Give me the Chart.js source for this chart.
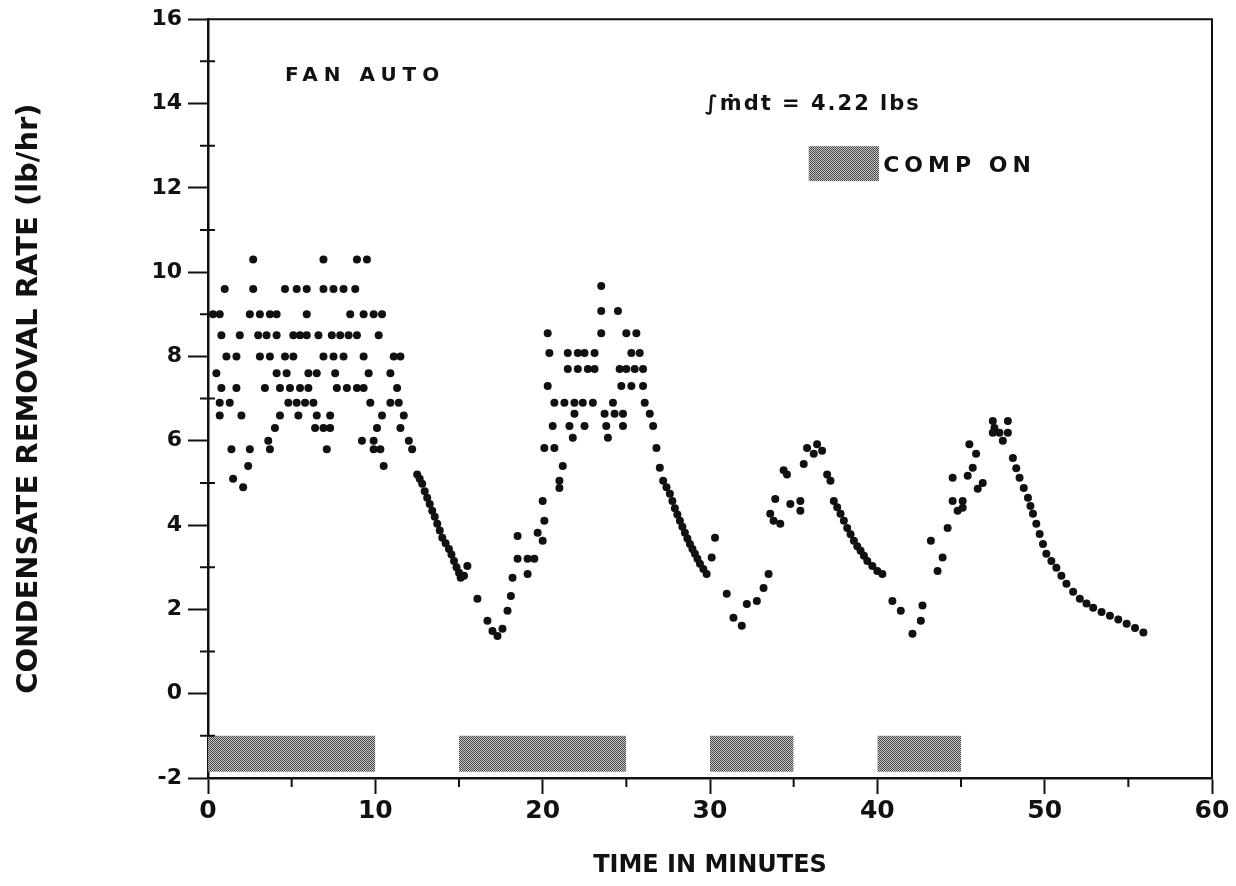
<!DOCTYPE html>
<html>
<head>
<meta charset="utf-8">
<script src="https://cdn.jsdelivr.net/npm/chart.js@4.4.1/dist/chart.umd.min.js"></script>
<style>
  body { margin: 0; background: #fff; }
  canvas { display: block; }
</style>
</head>
<body>
<canvas id="rateChart" width="1236" height="886"></canvas>
<script>
// cycle 1 plateau (0-12 min), grouped by the quantised rate levels
let cycle1Time = [
    2.7, 6.9, 8.9, 9.5,
    1.0, 2.7, 4.6, 5.3, 5.9, 6.9, 7.5, 8.1, 8.8,
    0.3, 0.7, 2.5, 3.1, 3.7, 4.1, 5.9, 8.5, 9.3, 9.9, 10.4,
    0.8, 1.9, 3.0, 3.5, 4.1, 5.1, 5.5, 5.9, 6.6, 7.4, 7.9, 8.4, 8.9, 10.2,
    1.1, 1.7, 3.1, 3.7, 4.6, 5.1, 6.9, 7.5, 8.1, 9.3, 11.1, 11.5,
    0.5, 4.1, 4.7, 6.0, 6.5, 7.6, 9.6, 10.9,
    0.8, 1.7, 3.4, 4.3, 4.9, 5.5, 6.0, 7.7, 8.3, 8.9, 9.3, 11.3,
    0.7, 1.3, 4.8, 5.3, 5.8, 6.3, 9.7, 10.9, 11.4,
    0.7, 2.0, 4.3, 5.4, 6.5, 7.3, 10.4, 11.7,
    4.0, 6.4, 6.9, 7.3, 10.1, 11.5,
    3.6, 9.2, 9.9, 12.0,
    1.4, 2.5, 3.7, 7.1, 9.9, 10.3, 12.2,
    2.4, 10.5, 1.5, 2.1
];
let cycle1Rate = [
    10.3, 10.3, 10.3, 10.3,
    9.6, 9.6, 9.6, 9.6, 9.6, 9.6, 9.6, 9.6, 9.6,
    9.0, 9.0, 9.0, 9.0, 9.0, 9.0, 9.0, 9.0, 9.0, 9.0, 9.0,
    8.5, 8.5, 8.5, 8.5, 8.5, 8.5, 8.5, 8.5, 8.5, 8.5, 8.5, 8.5, 8.5, 8.5,
    8.0, 8.0, 8.0, 8.0, 8.0, 8.0, 8.0, 8.0, 8.0, 8.0, 8.0, 8.0,
    7.6, 7.6, 7.6, 7.6, 7.6, 7.6, 7.6, 7.6,
    7.25, 7.25, 7.25, 7.25, 7.25, 7.25, 7.25, 7.25, 7.25, 7.25, 7.25, 7.25,
    6.9, 6.9, 6.9, 6.9, 6.9, 6.9, 6.9, 6.9, 6.9,
    6.6, 6.6, 6.6, 6.6, 6.6, 6.6, 6.6, 6.6,
    6.3, 6.3, 6.3, 6.3, 6.3, 6.3,
    6.0, 6.0, 6.0, 6.0,
    5.8, 5.8, 5.8, 5.8, 5.8, 5.8, 5.8,
    5.4, 5.4, 5.1, 4.9
];

// first decay, valley and rise
let fall1Time = [12.5, 12.65, 12.8, 12.95, 13.1, 13.25, 13.4, 13.55, 13.7, 13.85, 14.0, 14.2, 14.4, 14.55, 14.7, 14.85, 15.0, 15.1, 15.3, 15.5];
let fall1Rate = [5.2, 5.1, 4.98, 4.8, 4.65, 4.5, 4.34, 4.2, 4.03, 3.87, 3.7, 3.57, 3.43, 3.3, 3.15, 3.0, 2.87, 2.75, 2.8, 3.03];
let rise2Time = [16.1, 16.7, 17.0, 17.3, 17.6, 17.9, 18.1, 18.2, 18.5, 18.5, 19.1, 19.1, 19.5, 19.7, 20.0, 20.1, 20.0, 21.0, 21.0, 21.2, 20.1, 20.7];
let rise2Rate = [2.25, 1.73, 1.49, 1.37, 1.54, 1.97, 2.32, 2.75, 3.2, 3.74, 3.2, 2.84, 3.2, 3.82, 3.63, 4.1, 4.57, 4.88, 5.05, 5.4, 5.83, 5.83];

// cycle 2 plateau
let cycle2Time = [
    23.5,
    23.5, 24.5,
    20.3, 23.5, 25.0, 25.6,
    20.4, 21.5, 22.1, 22.5, 23.1, 25.3, 25.8,
    21.5, 22.1, 22.7, 23.1, 24.6, 25.0, 25.5, 26.0,
    20.3, 24.7, 25.3, 26.0,
    20.7, 21.3, 21.9, 22.4, 23.0, 24.2, 26.1,
    21.9, 23.7, 24.3, 24.8, 26.4,
    20.6, 21.6, 22.5, 23.8, 24.8, 26.6,
    21.8, 23.9
];
let cycle2Rate = [
    9.67,
    9.08, 9.08,
    8.55, 8.55, 8.55, 8.55,
    8.08, 8.08, 8.08, 8.08, 8.08, 8.08, 8.08,
    7.7, 7.7, 7.7, 7.7, 7.7, 7.7, 7.7, 7.7,
    7.3, 7.3, 7.3, 7.3,
    6.9, 6.9, 6.9, 6.9, 6.9, 6.9, 6.9,
    6.64, 6.64, 6.64, 6.64, 6.64,
    6.35, 6.35, 6.35, 6.35, 6.35, 6.35,
    6.07, 6.07
];

// second decay, valley and rise
let fall2Time = [26.8, 27.0, 27.2, 27.4, 27.6, 27.75, 27.9, 28.05, 28.2, 28.35, 28.5, 28.65, 28.8, 28.95, 29.1, 29.25, 29.4, 29.6, 29.8, 30.1, 30.3];
let fall2Rate = [5.83, 5.36, 5.05, 4.9, 4.74, 4.57, 4.4, 4.25, 4.1, 3.96, 3.82, 3.68, 3.55, 3.43, 3.32, 3.2, 3.08, 2.96, 2.84, 3.23, 3.7];
let rise3Time = [31.0, 31.4, 31.9, 32.2, 32.8, 33.2, 33.5, 33.6, 33.8, 33.9, 34.2, 34.4, 34.6, 34.8, 35.4, 35.4, 35.6, 35.8, 36.2, 36.4, 36.7];
let rise3Rate = [2.37, 1.8, 1.61, 2.13, 2.2, 2.51, 2.84, 4.27, 4.1, 4.62, 4.03, 5.3, 5.2, 4.5, 4.34, 4.57, 5.45, 5.83, 5.69, 5.92, 5.76];

// third decay, valley and rise
let fall3Time = [37.0, 37.2, 37.4, 37.6, 37.8, 38.0, 38.2, 38.4, 38.6, 38.8, 39.0, 39.2, 39.4, 39.7, 40.0, 40.3];
let fall3Rate = [5.2, 5.05, 4.57, 4.42, 4.27, 4.1, 3.93, 3.78, 3.63, 3.5, 3.39, 3.27, 3.15, 3.03, 2.91, 2.84];
let rise4Time = [40.9, 41.4, 42.1, 42.6, 42.7, 43.2, 43.6, 43.9, 44.2, 44.5, 44.5, 44.8, 45.1, 45.1, 45.4, 45.5, 45.7, 45.9, 46.0, 46.3, 47.0];
let rise4Rate = [2.2, 1.97, 1.42, 1.73, 2.09, 3.63, 2.91, 3.23, 3.93, 4.57, 5.12, 4.34, 4.57, 4.41, 5.17, 5.92, 5.36, 5.69, 4.86, 5.0, 6.3];

// last peak and final decay
let fall4Time = [46.9, 47.8, 46.9, 47.3, 47.8, 47.5, 48.1, 48.3, 48.5, 48.75, 49.0, 49.15, 49.3, 49.5, 49.7, 49.9, 50.1, 50.4, 50.7, 51.0, 51.3, 51.7, 52.1, 52.5, 52.9, 53.4, 53.9, 54.4, 54.9, 55.4, 55.9];
let fall4Rate = [6.47, 6.47, 6.19, 6.19, 6.19, 6.0, 5.59, 5.35, 5.12, 4.88, 4.65, 4.45, 4.27, 4.03, 3.79, 3.55, 3.32, 3.15, 2.99, 2.8, 2.61, 2.42, 2.25, 2.14, 2.04, 1.94, 1.85, 1.76, 1.66, 1.56, 1.45];

// compressor on periods (minutes)
let compStart = [0, 15, 30, 40];
let compEnd = [10, 25, 35, 45];
let compBarBottom = -1.85;
let compBarTop = -1.0;

let xTicks = [0, 10, 20, 30, 40, 50, 60];
let yTicks = [-2, 0, 2, 4, 6, 8, 10, 12, 14, 16];

let allTime = [].concat(cycle1Time, fall1Time, rise2Time, cycle2Time, fall2Time, rise3Time, fall3Time, rise4Time, fall4Time);
let allRate = [].concat(cycle1Rate, fall1Rate, rise2Rate, cycle2Rate, fall2Rate, rise3Rate, fall3Rate, rise4Rate, fall4Rate);

// stipple pattern like the scanned grey screen
let patCanvas = document.createElement("canvas");
patCanvas.width = 4;
patCanvas.height = 4;
let pctx = patCanvas.getContext("2d");
pctx.fillStyle = "#c4c4c4";
pctx.fillRect(0, 0, 4, 4);
pctx.fillStyle = "#4a4a4a";
for (let i = 0; i < 4; i++) {
    for (let j = 0; j < 4; j++) {
        if ((i + j) % 2 === 0) pctx.fillRect(i, j, 1, 1);
    }
}
let stipple = pctx.createPattern(patCanvas, "repeat");

const INK = "#111";
const FONT = "'DejaVu Sans', sans-serif";

let datasets = [{
    type: "scatter",
    data: allTime.map((t, i) => ({ x: t, y: allRate[i] })),
    pointRadius: 4,
    pointBackgroundColor: INK,
    pointBorderWidth: 0,
    order: 0
}];

compStart.forEach((s, i) => {
    datasets.push({
        type: "line",
        data: [{ x: s, y: compBarTop }, { x: compEnd[i], y: compBarTop }],
        fill: { value: compBarBottom },
        backgroundColor: stipple,
        borderWidth: 0,
        pointRadius: 0,
        order: 5
    });
});

// minor ticks, outer frame and text notes
const decorations = {
    id: "decorations",
    afterDraw(chart) {
        let ctx = chart.ctx;
        let x = chart.scales.x, y = chart.scales.y;
        let area = chart.chartArea;
        ctx.save();
        ctx.strokeStyle = INK;
        ctx.lineWidth = 2;
        ctx.beginPath();
        ctx.moveTo(area.left, area.top);
        ctx.lineTo(area.right, area.top);
        ctx.lineTo(area.right, area.bottom);
        ctx.stroke();

        ctx.lineWidth = 2;
        ctx.beginPath();
        for (let v = -1; v < 16; v += 2) {
            let py = y.getPixelForValue(v);
            ctx.moveTo(area.left - 8, py);
            ctx.lineTo(area.left + 7, py);
        }
        for (let t = 5; t < 60; t += 10) {
            let px = x.getPixelForValue(t);
            ctx.moveTo(px, area.bottom);
            ctx.lineTo(px, area.bottom + 9);
        }
        ctx.stroke();

        ctx.fillStyle = INK;
        ctx.textBaseline = "middle";
        ctx.textAlign = "left";
        ctx.font = "bold 20px " + FONT;
        ctx.letterSpacing = "6px";
        ctx.fillText("FAN AUTO", x.getPixelForValue(4.6), y.getPixelForValue(14.65));

        ctx.font = "bold 21px " + FONT;
        ctx.letterSpacing = "2px";
        ctx.fillText("\u222Bm\u0307dt = 4.22 lbs", x.getPixelForValue(29.7), y.getPixelForValue(13.98));

        let bx0 = x.getPixelForValue(35.9), bx1 = x.getPixelForValue(40.1);
        let by0 = y.getPixelForValue(12.99), by1 = y.getPixelForValue(12.16);
        ctx.fillStyle = stipple;
        ctx.fillRect(bx0, by0, bx1 - bx0, by1 - by0);
        ctx.fillStyle = INK;
        ctx.font = "bold 22px " + FONT;
        ctx.letterSpacing = "5px";
        ctx.fillText("COMP ON", x.getPixelForValue(40.35), y.getPixelForValue(12.5));
        ctx.restore();
    }
};

new Chart(document.getElementById("rateChart"), {
    type: "scatter",
    data: { datasets: datasets },
    options: {
        responsive: false,
        animation: false,
        layout: { padding: { top: 18, right: 24, left: 0, bottom: 0 } },
        plugins: {
            legend: { display: false },
            tooltip: { enabled: false }
        },
        scales: {
            x: {
                type: "linear",
                min: 0,
                max: 60,
                afterFit: s => { s.height = 108; },
                afterBuildTicks: s => { s.ticks = xTicks.map(v => ({ value: v })); },
                border: { display: true, color: INK, width: 2.5 },
                grid: { drawOnChartArea: false, color: INK, tickLength: 16, tickWidth: 2 },
                ticks: { color: INK, font: { family: FONT, weight: "bold", size: 25 }, padding: 2, maxRotation: 0 },
                title: {
                    display: true,
                    text: "TIME IN MINUTES",
                    color: INK,
                    font: { family: FONT, weight: "bold", size: 24 },
                    padding: { top: 0, bottom: 6 }
                }
            },
            y: {
                min: -2,
                max: 16,
                afterFit: s => { s.width = 208; },
                afterBuildTicks: s => { s.ticks = yTicks.map(v => ({ value: v })); },
                border: { display: true, color: INK, width: 2.5 },
                grid: { drawOnChartArea: false, color: INK, tickLength: 20, tickWidth: 2 },
                ticks: { color: INK, font: { family: FONT, weight: "bold", size: 22 }, padding: 6 },
                title: {
                    display: true,
                    text: "CONDENSATE REMOVAL RATE (lb/hr)",
                    color: INK,
                    font: { family: FONT, weight: "bold", size: 29 },
                    padding: { top: 12, bottom: 0 }
                }
            }
        }
    },
    plugins: [decorations]
});
</script>
</body>
</html>
